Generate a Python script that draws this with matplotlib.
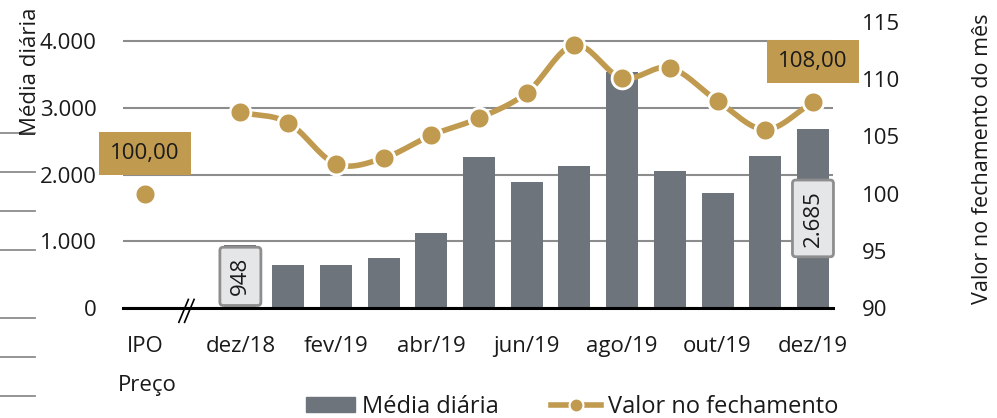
import numpy as np
import matplotlib
matplotlib.use("Agg")
import matplotlib.pyplot as plt
from matplotlib.patches import Patch
from matplotlib.lines import Line2D

plt.rcParams['font.family'] = ['Open Sans', 'DejaVu Sans']

# ---- data ----
months = ["dez/18", "jan/19", "fev/19", "mar/19", "abr/19", "mai/19", "jun/19",
          "jul/19", "ago/19", "set/19", "out/19", "nov/19", "dez/19"]
media_diaria = [948, 650, 650, 750, 1130, 2260, 1890, 2130, 3540, 2050, 1720, 2280, 2685]
valor_fechamento = [107.1, 106.2, 102.6, 103.1, 105.1, 106.6, 108.8,
                    113.0, 110.1, 111.0, 108.1, 105.6, 108.0]
ipo_label = "IPO"
ipo_valor = 100.0
xtick_labels = ["IPO", "dez/18", "fev/19", "abr/19", "jun/19", "ago/19", "out/19", "dez/19"]
left_ticks = [0, 1000, 2000, 3000, 4000]
left_ticklabels = ["0", "1.000", "2.000", "3.000", "4.000"]
right_ticks = [90, 95, 100, 105, 110, 115]

BAR = "#6D747B"
GOLD = "#C09A4E"
GRID = "#8C8C8C"
TXT = "#1a1a1a"
FS = 16

W, H = 997, 418
fig = plt.figure(figsize=(W / 100, H / 100), dpi=100)
ax = fig.add_axes([123 / W, (H - 308) / H, (833 - 123) / W, (308 - 22) / H])

ipo_x = 0
month_x = np.arange(2, 2 + len(months))

# bars
ax.bar(month_x, media_diaria, width=0.67, color=BAR, zorder=2)
ax.set_xlim(-0.46, 14.42)
ax.set_ylim(0, 4285)
ax.set_yticks(left_ticks)
ax.set_yticklabels(left_ticklabels, fontsize=FS, color=TXT)
ax.yaxis.grid(True, color=GRID, lw=1.5)
ax.set_axisbelow(True)
for s in ["top", "left", "right"]:
    ax.spines[s].set_visible(False)
ax.spines["bottom"].set_color("black")
ax.spines["bottom"].set_linewidth(2.2)
ax.tick_params(axis="y", length=0, pad=19)
ax.set_xticks([ipo_x] + list(month_x[::2]))
ax.set_xticklabels(xtick_labels, fontsize=FS, color=TXT)
ax.tick_params(axis="x", length=0, pad=20)

# bar value labels (first and last)
for idx in [0, len(months) - 1]:
    v = media_diaria[idx]
    txt = f"{v:,}".replace(",", ".")
    ax.text(month_x[idx], v / 2, txt, rotation=90, ha="center", va="center",
            fontsize=FS, color=TXT, zorder=5,
            bbox=dict(boxstyle="round,pad=0.45,rounding_size=0.15",
                      fc="#E5E6E8", ec="#8E8E8E", lw=2))

# break marks
for dx in [-0.05, 0.07]:
    ax.plot([0.76 + dx, 0.96 + dx], [-0.05, 0.03], transform=ax.get_xaxis_transform(),
            color="black", lw=1.2, clip_on=False, zorder=6)

# line on secondary axis
ax2 = ax.twinx()
ax2.set_ylim(90, 115)
ax2.set_yticks(right_ticks)
ax2.set_yticklabels([str(t) for t in right_ticks], fontsize=FS, color=TXT)
ax2.tick_params(axis="y", length=0, pad=21)
for s in ax2.spines.values():
    s.set_visible(False)

# smooth curve (Catmull-Rom) through monthly points
px = np.array(month_x, dtype=float)
py = np.array(valor_fechamento, dtype=float)
P = np.column_stack([px, py])
Pext = np.vstack([2 * P[0] - P[1], P, 2 * P[-1] - P[-2]])
curve = []
for i in range(1, len(Pext) - 2):
    p0, p1, p2, p3 = Pext[i - 1], Pext[i], Pext[i + 1], Pext[i + 2]
    for t in np.linspace(0, 1, 20, endpoint=False):
        t2, t3 = t * t, t * t * t
        pt = 0.5 * ((2 * p1) + (-p0 + p2) * t + (2 * p0 - 5 * p1 + 4 * p2 - p3) * t2
                    + (-p0 + 3 * p1 - 3 * p2 + p3) * t3)
        curve.append(pt)
curve.append(P[-1])
curve = np.array(curve)
ax2.plot(curve[:, 0], curve[:, 1], color=GOLD, lw=4, solid_capstyle="round", zorder=3)
ax2.plot(px, py, ls="none", marker="o", ms=15, mfc=GOLD, mec="white", mew=2, zorder=4)
ax2.plot([ipo_x], [ipo_valor], ls="none", marker="o", ms=15, mfc=GOLD, mec="white", mew=2, zorder=4)

for xv, yv in [(ipo_x, ipo_valor), (px[-1], py[-1])]:
    ax2.annotate(f"{yv:.2f}".replace(".", ","), (xv, yv), xytext=(0, 29),
                 textcoords="offset points", ha="center", va="center",
                 fontsize=FS, color=TXT, zorder=6,
                 bbox=dict(boxstyle="square,pad=0.5", fc=GOLD, ec="none"))

# labels
fig.text(147 / W, 1 - 385 / H, "Preço", ha="center", va="center", fontsize=FS, color=TXT)
fig.text(30 / W, 1 - 72 / H, "Média diária", rotation=90, ha="center", va="center",
         fontsize=FS, color=TXT)
fig.text(982 / W, 1 - 304 / H, "Valor no fechamento do mês", rotation=90, ha="center",
         va="bottom", fontsize=15.5, color=TXT)

# decorative left-margin rules
for yy in [133, 172, 211, 250, 318, 357, 396]:
    fig.add_artist(Line2D([0, 35 / W], [1 - yy / H, 1 - yy / H], color="#8C8C8C", lw=1.3))

# legend
handles = [Patch(color=BAR),
           Line2D([0], [0], color=GOLD, lw=4, marker="o", ms=10, mfc=GOLD, mec="white", mew=1.5)]
leg = fig.legend(handles, ["Média diária", "Valor no fechamento"], loc="center",
                 bbox_to_anchor=(572 / W, 1 - 407 / H), ncol=2, frameon=False,
                 fontsize=17, handlelength=2.1, handleheight=0.6, handletextpad=0.3,
                 columnspacing=2.2, borderpad=0, borderaxespad=0)
for t in leg.get_texts():
    t.set_color(TXT)

fig.savefig("out.png", dpi=100)
